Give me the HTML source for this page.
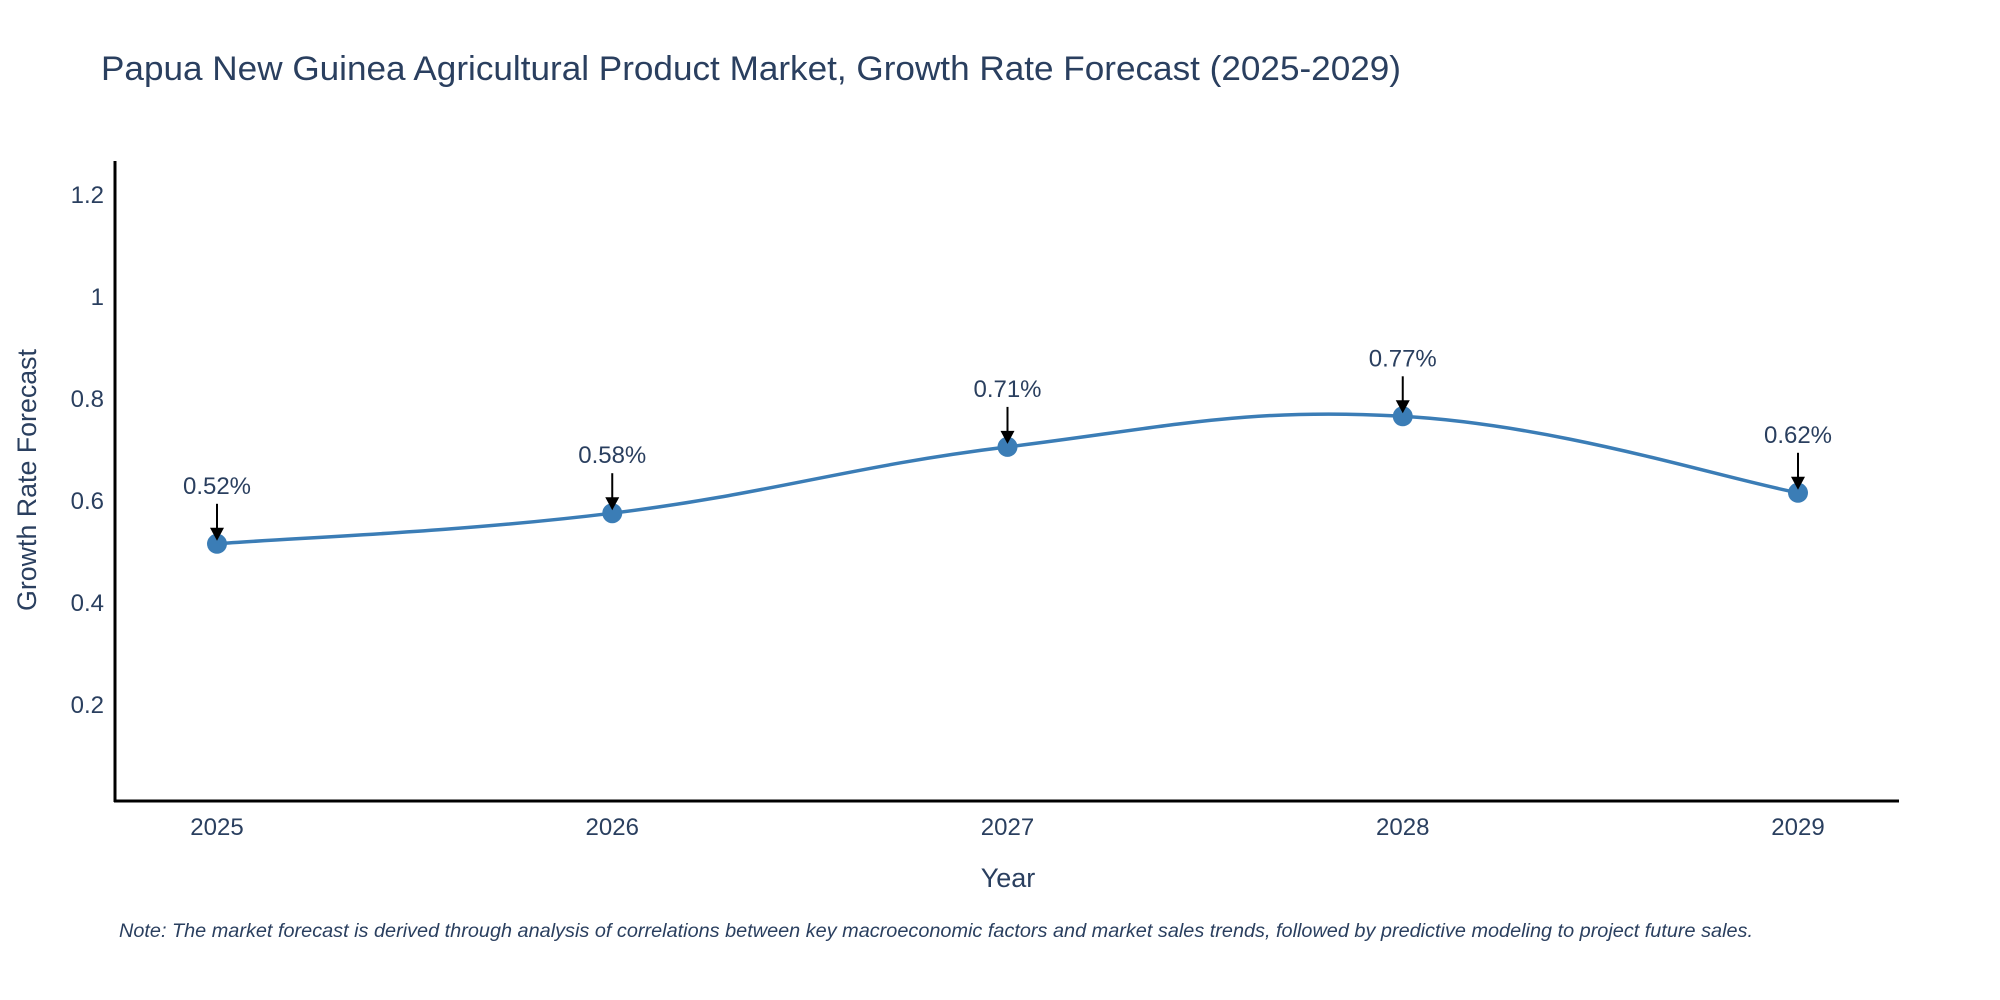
<!DOCTYPE html>
<html><head><meta charset="utf-8"><style>
html,body{margin:0;padding:0;background:#fff;width:2000px;height:1000px;overflow:hidden}
text{font-family:"Liberation Sans",sans-serif}
</style></head><body>
<svg id="chart" width="2000" height="1000">
<text x="101" y="80" font-size="34" textLength="1300" lengthAdjust="spacingAndGlyphs" fill="#2a3f5f">Papua New Guinea Agricultural Product Market, Growth Rate Forecast (2025-2029)</text>
<g id="yticks"></g><g id="xticks"></g>
<line x1="115" y1="161" x2="115" y2="802" stroke="#000" stroke-width="3"/>
<line x1="114" y1="801" x2="1899" y2="801" stroke="#000" stroke-width="3"/>
<path id="line" fill="none" stroke="#3b7db6" stroke-width="3.5"/>
<g id="marks"></g>
<text transform="translate(36,480) rotate(-90)" text-anchor="middle" font-size="27" textLength="262" lengthAdjust="spacingAndGlyphs" fill="#2a3f5f">Growth Rate Forecast</text>
<text x="1008" y="887" text-anchor="middle" font-size="27" fill="#2a3f5f">Year</text>
<text x="119" y="937" font-size="19" font-style="italic" textLength="1634" lengthAdjust="spacingAndGlyphs" fill="#2a3f5f">Note: The market forecast is derived through analysis of correlations between key macroeconomic factors and market sales trends, followed by predictive modeling to project future sales.</text>
</svg>
<script>
const years=["2025","2026","2027","2028","2029"];
const values=[0.52,0.58,0.71,0.77,0.62];
const valueLabels=["0.52%","0.58%","0.71%","0.77%","0.62%"];
const yTickVals=[0.2,0.4,0.6,0.8,1,1.2];
const yTickLabels=["0.2","0.4","0.6","0.8","1","1.2"];
const NS="http://www.w3.org/2000/svg";
function xs(i){return 217+i*395.25;}
function ys(v){return 807-v*510;}
function mk(tag,attrs,parent){const e=document.createElementNS(NS,tag);for(const k in attrs)e.setAttribute(k,attrs[k]);parent.appendChild(e);return e;}
const yt=document.getElementById('yticks');
yTickVals.forEach((v,i)=>{const t=mk('text',{x:104,y:ys(v)+8,'text-anchor':'end','font-size':'24',fill:'#2a3f5f'},yt);t.textContent=yTickLabels[i];

});
const xt=document.getElementById('xticks');
years.forEach((y,i)=>{const t=mk('text',{x:xs(i),y:835,'text-anchor':'middle','font-size':'24',fill:'#2a3f5f'},xt);t.textContent=y;

});
const pts=values.map((v,i)=>[xs(i),ys(v)+2]);
let d='M'+pts[0][0]+','+pts[0][1];const s=0.2;
for(let i=0;i<pts.length-1;i++){const p0=pts[Math.max(i-1,0)],p1=pts[i],p2=pts[i+1],p3=pts[Math.min(i+2,pts.length-1)];
const c1=[p1[0]+(p2[0]-p0[0])*s,p1[1]+(p2[1]-p0[1])*s],c2=[p2[0]-(p3[0]-p1[0])*s,p2[1]-(p3[1]-p1[1])*s];
d+=' C'+c1+' '+c2+' '+p2;}
document.getElementById('line').setAttribute('d',d);
const mg=document.getElementById('marks');
pts.forEach((p,i)=>{
const c=mk('circle',{cx:p[0],cy:p[1],r:10,fill:'#3b7db6'},mg);


const l=mk('line',{x1:p[0],y1:p[1]-40,x2:p[0],y2:p[1]-12,stroke:'#000','stroke-width':2},mg);


const a=mk('path',{d:`M${p[0]-7},${p[1]-16} L${p[0]+7},${p[1]-16} L${p[0]},${p[1]-3} Z`,fill:'#000'},mg);


const t=mk('text',{x:p[0],y:p[1]-50,'text-anchor':'middle','font-size':'24',fill:'#2a3f5f'},mg);t.textContent=valueLabels[i];

});
</script>
</body></html>
